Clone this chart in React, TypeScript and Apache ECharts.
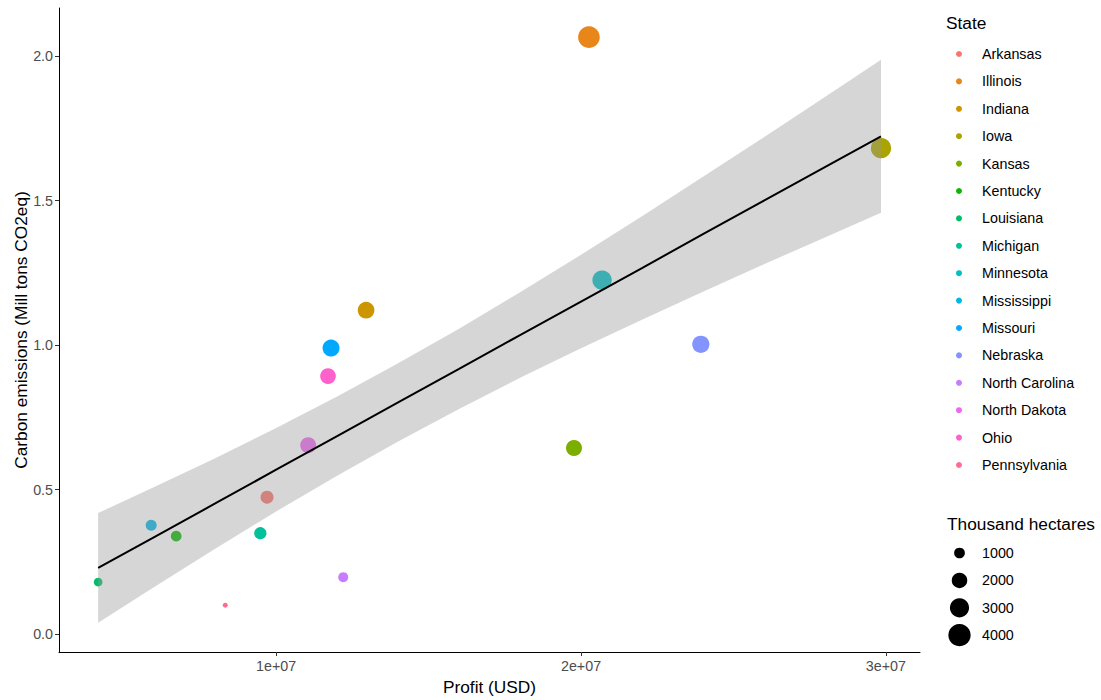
import React, { useEffect, useRef } from "react";
import * as echarts from "echarts";

// ---- Data ----
const states = [
  "Arkansas", "Illinois", "Indiana", "Iowa", "Kansas", "Kentucky", "Louisiana", "Michigan",
  "Minnesota", "Mississippi", "Missouri", "Nebraska", "North Carolina", "North Dakota", "Ohio", "Pennsylvania",
];
const stateColors = [
  "#F8766D", "#E8861A", "#CD9600", "#ABA300", "#7CAE00", "#0CB702", "#00BE67", "#00C19A",
  "#00BFC4", "#00B8E7", "#00A9FF", "#8494FF", "#C77CFF", "#ED68ED", "#FF61CC", "#FF6C91",
];
const profitUSD = [
  9.70e6, 20.26e6, 12.95e6, 29.84e6, 19.77e6, 6.72e6, 4.16e6, 9.48e6,
  20.69e6, 5.90e6, 11.80e6, 23.93e6, 12.20e6, 11.05e6, 11.70e6, 8.33e6,
];
const emissions = [
  0.474, 2.066, 1.121, 1.682, 0.644, 0.339, 0.180, 0.349,
  1.225, 0.377, 0.990, 1.003, 0.197, 0.654, 0.893, 0.100,
];
const hectares = [
  1435, 3796, 2300, 3337, 2120, 1000, 684, 1294,
  3029, 1051, 2380, 2460, 882, 2120, 2046, 258,
];

// linear smooth and its confidence band
const smoothX = [4.16e6, 6e6, 8e6, 10e6, 12e6, 14e6, 16e6, 18e6, 20e6, 22e6, 24e6, 26e6, 28e6, 29.84e6];
const smoothFit = [0.229, 0.336, 0.452, 0.569, 0.685, 0.802, 0.918, 1.035, 1.151, 1.267, 1.384, 1.5, 1.616, 1.723];
const smoothLow = [0.039, 0.163, 0.295, 0.4245, 0.548, 0.667, 0.779, 0.887, 0.989, 1.088, 1.185, 1.28, 1.373, 1.458];
const smoothHigh = [0.419, 0.509, 0.609, 0.7135, 0.822, 0.937, 1.057, 1.183, 1.313, 1.446, 1.583, 1.72, 1.859, 1.988];

const xTicks = [1e7, 2e7, 3e7];
const xTickLabels = ["1e+07", "2e+07", "3e+07"];
const yTicks = [0, 0.5, 1, 1.5, 2];
const yTickLabels = ["0.0", "0.5", "1.0", "1.5", "2.0"];
const sizeBreaks = [1000, 2000, 3000, 4000];

const FONT = "'Liberation Sans', Arial, Helvetica, sans-serif";
const TITLE_SIZE = 17.3;
const TEXT_SIZE = 14.3;

// diameter (px) of a point for an area value (sqrt scale)
const diam = (v: number) => -0.9 + 0.367 * Math.sqrt(v);

export default function App() {
  const ref = useRef<HTMLDivElement>(null);

  useEffect(() => {
    document.body.style.margin = "0";
    if (!ref.current) return;
    const chart = echarts.init(ref.current, undefined, { renderer: "svg" });

    const scatterSeries = states.map((s, i) => ({
      type: "scatter",
      name: s,
      data: [[profitUSD[i], emissions[i], hectares[i]]],
      symbol: "circle",
      symbolSize: (val: number[]) => diam(val[2]),
      itemStyle: { color: stateColors[i], opacity: 1 },
      z: 2,
      silent: true,
    }));

    const ribbon = {
      type: "custom",
      name: "ci",
      data: [[smoothX[0], smoothLow[0]]],
      z: 3,
      silent: true,
      renderItem: (_params: any, api: any) => {
        const pts: number[][] = [];
        for (let i = 0; i < smoothX.length; i++) pts.push(api.coord([smoothX[i], smoothHigh[i]]));
        for (let i = smoothX.length - 1; i >= 0; i--) pts.push(api.coord([smoothX[i], smoothLow[i]]));
        return {
          type: "polygon",
          shape: { points: pts },
          style: { fill: "rgba(153,153,153,0.4)", stroke: "none" },
        };
      },
    };

    const fitLine = {
      type: "line",
      name: "fit",
      data: smoothX.map((x, i) => [x, smoothFit[i]]),
      symbol: "none",
      lineStyle: { color: "#000000", width: 2 },
      z: 4,
      silent: true,
    };

    const graphics: any[] = [
      {
        type: "text",
        x: 946,
        y: 23,
        style: { text: "State", fontSize: TITLE_SIZE, fontFamily: FONT, fill: "#000", verticalAlign: "middle" },
      },
      {
        type: "text",
        x: 947,
        y: 524,
        style: { text: "Thousand hectares", fontSize: TITLE_SIZE, fontFamily: FONT, fill: "#000", verticalAlign: "middle" },
      },
    ];
    sizeBreaks.forEach((b, i) => {
      const cy = 553 + 27.4 * i;
      graphics.push({
        type: "circle",
        shape: { cx: 959.5, cy, r: diam(b) / 2 },
        style: { fill: "#000" },
      });
      graphics.push({
        type: "text",
        x: 982,
        y: cy,
        style: { text: String(b), fontSize: TEXT_SIZE, fontFamily: FONT, fill: "#000", verticalAlign: "middle" },
      });
    });

    chart.setOption({
      animation: false,
      backgroundColor: "#ffffff",
      textStyle: { fontFamily: FONT },
      grid: { left: 59, right: 181, top: 8, bottom: 48, containLabel: false, outerBoundsMode: "none" },
      xAxis: {
        type: "value",
        min: 2.876e6,
        max: 3.112e7,
        name: "Profit (USD)",
        nameLocation: "middle",
        nameGap: 26,
        nameMoveOverlap: false,
        nameTextStyle: { fontSize: TITLE_SIZE, color: "#000", fontFamily: FONT },
        splitLine: { show: false },
        axisLine: { show: true, onZero: false, lineStyle: { color: "#000", width: 1 } },
        axisTick: { show: true, customValues: xTicks, length: 4, lineStyle: { color: "#333", width: 1 } },
        axisLabel: {
          customValues: xTicks,
          formatter: (v: number) => xTickLabels[xTicks.indexOf(v)] ?? "",
          color: "#4D4D4D",
          fontSize: TEXT_SIZE,
          fontFamily: FONT,
          margin: 7,
        },
      },
      yAxis: {
        type: "value",
        min: -0.062,
        max: 2.167,
        name: "Carbon emissions (Mill tons CO2eq)",
        nameLocation: "middle",
        nameGap: 30,
        nameMoveOverlap: false,
        nameTextStyle: { fontSize: TITLE_SIZE, color: "#000", fontFamily: FONT },
        splitLine: { show: false },
        axisLine: { show: true, onZero: false, lineStyle: { color: "#000", width: 1 } },
        axisTick: { show: true, customValues: yTicks, length: 4, lineStyle: { color: "#333", width: 1 } },
        axisLabel: {
          customValues: yTicks,
          formatter: (v: number) => yTickLabels[yTicks.indexOf(v)] ?? "",
          color: "#4D4D4D",
          fontSize: TEXT_SIZE,
          fontFamily: FONT,
          margin: 6,
        },
      },
      legend: {
        orient: "vertical",
        left: 956,
        top: 47,
        padding: 0,
        itemWidth: 36,
        itemHeight: 6,
        itemGap: 13.4,
        icon: "circle",
        selectedMode: false,
        data: states,
        textStyle: { fontSize: TEXT_SIZE, color: "#000", fontFamily: FONT, lineHeight: 14 },
      },
      graphic: graphics,
      series: [...scatterSeries, ribbon, fitLine],
    });

    return () => {
      chart.dispose();
    };
  }, []);

  return <div ref={ref} style={{ width: 1101, height: 700 }} />;
}
